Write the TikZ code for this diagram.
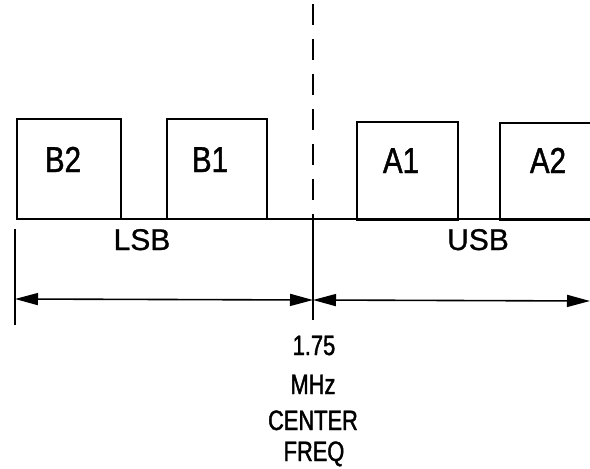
\documentclass[tikz,border=0pt]{standalone}
\usepackage{fontspec}
\setmainfont{Liberation Sans}
\newfontfamily\cond[FakeStretch=0.82,FakeBold=1.2]{Liberation Sans}
\newfontfamily\condsmall[FakeStretch=0.78,FakeBold=1.5]{Liberation Sans}
\newfontfamily\wide[FakeBold=0.8]{Liberation Sans}
\usetikzlibrary{arrows.meta}
\begin{document}
\begin{tikzpicture}[x=1pt,y=-1pt,
  band/.style={draw,line width=2.2pt,inner sep=0pt,anchor=north west},
  boxlabel/.style={font=\cond\fontsize{36}{40}\selectfont,anchor=base,inner sep=0pt},
  sblabel/.style={font=\wide\fontsize{30}{34}\selectfont,anchor=base,inner sep=0pt},
  freqlabel/.style={font=\condsmall\fontsize{28}{30}\selectfont,anchor=base,inner sep=0pt},
  >={Triangle[length=23pt,width=12pt]},
  span/.style={line width=1.6pt,<->}]
\clip (0,0) rectangle (590,469);
\fill[white] (0,0) rectangle (590,469);
% frequency band boxes
\node[band,minimum width=104pt,minimum height=100pt] (b2) at (16,118) {};
\node[band,minimum width=100pt,minimum height=100pt] (b1) at (166,118) {};
\node[band,minimum width=101pt,minimum height=98pt] (a1) at (356,121) {};
\node[band,minimum width=120pt,minimum height=97pt] (a2) at (499,122) {};
\node[boxlabel] (lb2) at (63,172) {B2};
\node[boxlabel] (lb1) at (210,172) {B1};
\node[boxlabel] (la1) at (401,173) {A1};
\node[boxlabel] (la2) at (548,173) {A2};
% base line
\coordinate (base0) at (16,219);
\coordinate (base1) at (595,219);
\draw[line width=2.2pt] (base0) -- (base1);
% center line
\coordinate (ctop) at (313,4);
\coordinate (cmid) at (313,219);
\coordinate (cbot) at (313,320);
\draw[line width=2.2pt,dash pattern=on 21pt off 14pt] (ctop) -- (cmid);
\draw[line width=2.2pt] (cmid) -- (cbot);
% left tick
\coordinate (ltop) at (15,229);
\coordinate (lbot) at (15,325);
\draw[line width=2.2pt] (ltop) -- (lbot);
% span arrows
\coordinate (al) at (15,299);
\coordinate (ac) at (313,300);
\coordinate (ar) at (590,301);
\draw[span] (al) -- (ac);
\draw[span] (ac) -- (ar);
% sideband labels
\node[sblabel] (lsb) at (142,250) {LSB};
\node[sblabel] (usb) at (478,250) {USB};
% center frequency label
\node[freqlabel] (f1) at (314,355) {1.75};
\node[freqlabel] (f2) at (313,394) {MHz};
\node[freqlabel] (f3) at (313,430) {CENTER};
\node[freqlabel] (f4) at (314,461) {FREQ};
\end{tikzpicture}
\end{document}
